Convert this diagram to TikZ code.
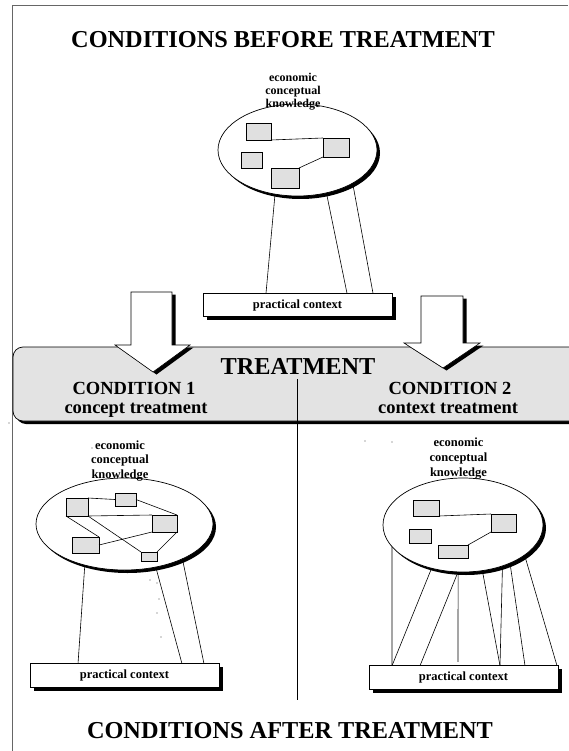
\documentclass[tikz,border=0pt]{standalone}
\usepackage{fontspec}
\setmainfont{Liberation Serif}
\usetikzlibrary{shapes.geometric,shadows,calc}

\tikzset{
  framerule/.style={draw=black!60, line width=1.3pt},
  bubble/.style={ellipse, draw=black, line width=0.7pt, fill=white,
    inner sep=0pt, outer sep=0pt,
    general shadow={fill=black, shadow xshift=3pt, shadow yshift=-3pt}},
  cbox/.style={rectangle, draw=black, line width=0.6pt, fill=black!12,
    inner sep=0pt, outer sep=0pt,
    general shadow={fill=black!75, shadow xshift=1pt, shadow yshift=-1pt}},
  ctxbox/.style={rectangle, draw=black, line width=0.7pt, fill=white,
    minimum width=189pt, minimum height=23.5pt, inner sep=0pt, outer sep=0pt,
    font=\fontsize{12.5}{14}\selectfont\bfseries,
    general shadow={fill=black, shadow xshift=3.5pt, shadow yshift=-3.5pt}},
  link/.style={draw=black, line width=0.6pt},
  tie/.style={draw=black, line width=0.6pt},
  divider/.style={draw=black, line width=0.6pt},
  bigtitle/.style={anchor=base, inner sep=0pt, font=\fontsize{24.3}{28}\selectfont\bfseries},
  condtitle/.style={anchor=base, inner sep=0pt, font=\fontsize{18.5}{21}\selectfont\bfseries},
  lbltop/.style={anchor=base, inner sep=0pt, font=\fontsize{12}{14}\selectfont\bfseries},
  lbl/.style={anchor=base, inner sep=0pt, font=\fontsize{12.5}{14}\selectfont\bfseries},
  blockarrow/.style={draw=black, line width=0.6pt, fill=white,
    general shadow={fill=black, shadow xshift=3.5pt, shadow yshift=-2.5pt}},
  band/.style={draw=black, line width=0.7pt, fill=black!11, rounded corners=10pt,
    general shadow={fill=black, shadow xshift=3pt, shadow yshift=-3pt}},
  speck/.style={fill=black!70},
}

\begin{document}
\begin{tikzpicture}[x=1pt,y=-1pt]
\useasboundingbox (0,0) rectangle (568,751);

% page frame (top and left rules)
\coordinate (fTR) at (568,5.5);
\coordinate (fTL) at (12.5,5.5);
\coordinate (fBL) at (12.5,751);
\draw[framerule] (fTR) -- (fTL) -- (fBL);

% ---------- before treatment ----------
\node[bigtitle] (before) at (283,48) {CONDITIONS BEFORE TREATMENT};

\node[bubble, minimum width=159pt, minimum height=92pt] (eT) at (297.5,150) {};
\node[cbox, minimum width=25pt, minimum height=17pt] (tA) at (258.5,131.5) {};
\node[cbox, minimum width=26pt, minimum height=19pt] (tB) at (336,147.5) {};
\node[cbox, minimum width=21pt, minimum height=16pt] (tC) at (251.5,160) {};
\node[cbox, minimum width=28pt, minimum height=20pt] (tD) at (285,178) {};
\draw[link] (tA.south east) -- (tB.north west);
\draw[link] (tD.north east) -- (tB.south west);

\node[lbltop] (lt1) at (293,81.5) {economic};
\node[lbltop] (lt2) at (293,94.5) {conceptual};
\node[lbltop] (lt3) at (293,107.5) {knowledge};

\node[ctxbox] (ctxT) at (297.5,305) {practical context};
\draw[tie] (eT.243) -- ([xshift=63pt]ctxT.north west);
\draw[tie] (eT.304) -- ([xshift=144pt]ctxT.north west);
\draw[tie] (eT.329) -- ([xshift=170pt]ctxT.north west);

% ---------- treatment band ----------
\path[band] (13,347) rectangle (590,421);
\node[bigtitle] (treat) at (298,374) {TREATMENT};
\node[condtitle] (c1a) at (134,394.5) {CONDITION 1};
\node[condtitle] (c1b) at (136,413) {concept treatment};
\node[condtitle] (c2a) at (450,394.5) {CONDITION 2};
\node[condtitle] (c2b) at (448,413) {context treatment};

\coordinate (divtop) at (297,379);
\coordinate (divbot) at (297,700);
\draw[divider] (divtop) -- (divbot);

% hollow block arrows into the band
\path[blockarrow] (131,292) -- (172,292) -- (172,345) -- (190,345) -- (153,372)
  -- (115,345) -- (131,345) -- cycle;
\path[blockarrow] (421,296) -- (463,296) -- (463,343) -- (480,343) -- (443,368)
  -- (404,343) -- (421,343) -- cycle;

% ---------- condition 1: concept treatment ----------
\node[bubble, minimum width=177pt, minimum height=92pt] (eL) at (124.5,524) {};
\node[cbox, minimum width=22pt, minimum height=18pt] (b1) at (77,507) {};
\node[cbox, minimum width=21pt, minimum height=13pt] (b2) at (125.5,499.5) {};
\node[cbox, minimum width=25pt, minimum height=17pt] (b3) at (164.5,523.5) {};
\node[cbox, minimum width=27pt, minimum height=16pt] (b4) at (85.5,545) {};
\node[cbox, minimum width=16pt, minimum height=9pt] (b5) at (149,556.5) {};
\draw[link] (b1.north east) -- (b2.west);
\draw[link] (b2.east) -- (b3.north east);
\draw[link] (b1.south east) -- (b3.north west);
\draw[link] (b1.south west) -- (b4.north east);
\draw[link] (b1.south east) -- (b5.north west);
\draw[link] (b4.east) -- (b3.south west);
\draw[link] (b3.south east) -- (b5.north east);

\node[lbl] (ll1) at (120,449) {economic};
\node[lbl] (ll2) at (120,463.5) {conceptual};
\node[lbl] (ll3) at (120,478) {knowledge};

\node[ctxbox] (ctxL) at (124.5,675.5) {practical context};
\draw[tie] (eL.226) -- ([xshift=48pt]ctxL.north west);
\draw[tie] (eL.306) -- ([xshift=152pt]ctxL.north west);
\draw[tie] (eL.329.5) -- ([xshift=174pt]ctxL.north west);

% ---------- condition 2: context treatment ----------
\node[bubble, minimum width=160pt, minimum height=94pt] (eR) at (463,525) {};
\node[cbox, minimum width=26pt, minimum height=16pt] (r1) at (426,508) {};
\node[cbox, minimum width=25pt, minimum height=18pt] (r2) at (503.5,523) {};
\node[cbox, minimum width=22pt, minimum height=14pt] (r3) at (420,536) {};
\node[cbox, minimum width=30pt, minimum height=13pt] (r4) at (453,551.5) {};
\draw[link] (r1.south east) -- (r2.north west);
\draw[link] (r4.north east) -- (r2.south west);

\node[lbl] (lr1) at (458.5,446.7) {economic};
\node[lbl] (lr2) at (458.5,461.7) {conceptual};
\node[lbl] (lr3) at (458.5,476.7) {knowledge};

\node[ctxbox] (ctxR) at (463.5,677.5) {practical context};
\draw[tie] (eR.197) -- ([xshift=23pt]ctxR.north west);
\draw[tie] (eR.234) -- ([xshift=23pt]ctxR.north west);
\draw[tie] (eR.264) -- ([xshift=51pt]ctxR.north west);
\draw[tie] (eR.264) -- ([xshift=89pt,yshift=4pt]ctxR.north west);
\draw[tie] (eR.293) -- ([xshift=131pt]ctxR.north west);
\draw[tie] (eR.314) -- ([xshift=131pt]ctxR.north west);
\draw[tie] (eR.321) -- ([xshift=156pt]ctxR.north west);
\draw[tie] (eR.334) -- ([xshift=188pt]ctxR.north west);

% ---------- after treatment ----------
\node[bigtitle] (after) at (290,738) {CONDITIONS AFTER TREATMENT};

% stray specks
\fill[speck] (9,423) circle[radius=0.7pt];
\fill[speck] (92,448) circle[radius=0.6pt];
\fill[speck] (365,441) circle[radius=0.7pt];
\fill[speck] (392,442) circle[radius=0.7pt];
\fill[speck] (150,580) circle[radius=0.6pt];
\fill[speck] (157,583) circle[radius=0.6pt];
\fill[speck] (159,599) circle[radius=0.6pt];
\fill[speck] (157,613) circle[radius=0.6pt];
\fill[speck] (161,637) circle[radius=0.6pt];
\end{tikzpicture}
\end{document}
